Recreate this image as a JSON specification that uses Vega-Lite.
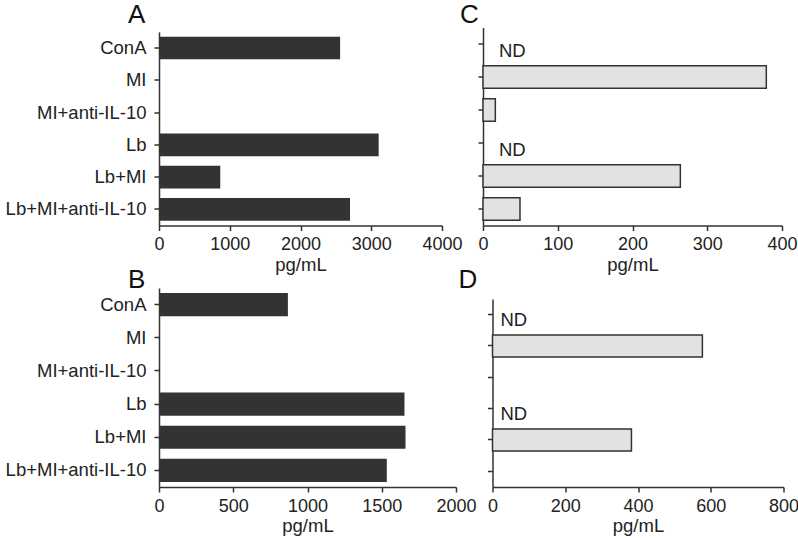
{
  "$schema": "https://vega.github.io/schema/vega-lite/v6.json",
  "background": "white",
  "padding": {"left": 5, "top": 1.5, "right": 0, "bottom": 0},
  "datasets": {
    "cyto": [
      {"panel": "A", "cat": "ConA", "value": 2560, "note": null},
      {"panel": "A", "cat": "Lb", "value": 3105, "note": null},
      {"panel": "A", "cat": "Lb+MI", "value": 866, "note": null},
      {"panel": "A", "cat": "Lb+MI+anti-IL-10", "value": 2700, "note": null},
      {"panel": "B", "cat": "ConA", "value": 868, "note": null},
      {"panel": "B", "cat": "Lb", "value": 1653, "note": null},
      {"panel": "B", "cat": "Lb+MI", "value": 1660, "note": null},
      {"panel": "B", "cat": "Lb+MI+anti-IL-10", "value": 1534, "note": null},
      {"panel": "C", "cat": "ConA", "value": null, "note": "ND"},
      {"panel": "C", "cat": "MI", "value": 379, "note": null},
      {"panel": "C", "cat": "MI+anti-IL-10", "value": 16.5, "note": null},
      {"panel": "C", "cat": "Lb", "value": null, "note": "ND"},
      {"panel": "C", "cat": "Lb+MI", "value": 264, "note": null},
      {"panel": "C", "cat": "Lb+MI+anti-IL-10", "value": 49.5, "note": null},
      {"panel": "D", "cat": "ConA", "value": null, "note": "ND"},
      {"panel": "D", "cat": "MI", "value": 577, "note": null},
      {"panel": "D", "cat": "Lb", "value": null, "note": "ND"},
      {"panel": "D", "cat": "Lb+MI", "value": 382, "note": null}
    ]
  },
  "config": {
    "font": "Liberation Sans",
    "view": {"stroke": null},
    "title": {"font": "Liberation Sans", "fontSize": 26, "fontWeight": "normal", "color": "#111111", "anchor": "start", "frame": "group"},
    "axis": {
      "domainColor": "#333333", "domainWidth": 1.5, "tickColor": "#333333", "tickWidth": 1.5, "tickSize": 5,
      "labelFont": "Liberation Sans", "labelColor": "#222222", "grid": false,
      "titleFont": "Liberation Sans", "titleFontSize": 18.5, "titleFontWeight": "normal", "titleColor": "#222222"
    },
    "axisX": {"labelFontSize": 18, "labelPadding": 5, "titlePadding": 1.5, "labelFlush": false, "labelOverlap": false, "format": "d"},
    "axisY": {"labelFontSize": 18.5, "labelPadding": 8}
  },
  "concat": [
    {
      "columns": 2, "align": "none", "spacing": -3,
      "concat": [
        {
          "width": 283, "height": 198,
          "title": {"text": "A", "dx": -31, "offset": 0},
          "data": {"name": "cyto"},
          "transform": [{"filter": "datum.panel === 'A'"}],
          "mark": {"type": "bar", "color": "#333333"},
          "encoding": {
            "y": {"field": "cat", "type": "nominal", "scale": {"domain": ["ConA", "MI", "MI+anti-IL-10", "Lb", "Lb+MI", "Lb+MI+anti-IL-10"], "range": [4.4, 198], "paddingInner": 0.3, "paddingOuter": 0.15}, "axis": {"title": null}},
            "x": {"field": "value", "type": "quantitative", "scale": {"domain": [0, 4000], "nice": false}, "axis": {"title": "pg/mL", "values": [0, 1000, 2000, 3000, 4000]}}
          }
        },
        {
          "width": 299, "height": 198,
          "title": {"text": "C", "dx": -23, "offset": 0},
          "data": {"name": "cyto"},
          "transform": [{"filter": "datum.panel === 'C'"}],
          "encoding": {
            "y": {"field": "cat", "type": "nominal", "scale": {"domain": ["ConA", "MI", "MI+anti-IL-10", "Lb", "Lb+MI", "Lb+MI+anti-IL-10"], "paddingInner": 0.32, "paddingOuter": 0.16}, "axis": {"title": null, "labels": false}}
          },
          "layer": [
            {
              "mark": {"type": "bar", "fill": "#e2e2e2", "stroke": "#333333", "strokeWidth": 1.5},
              "encoding": {
                "x": {"field": "value", "type": "quantitative", "scale": {"domain": [0, 400], "nice": false}, "axis": {"title": "pg/mL", "values": [0, 100, 200, 300, 400]}}
              }
            },
            {
              "transform": [{"filter": "datum.note === 'ND'"}],
              "mark": {"type": "text", "align": "left", "baseline": "middle", "dx": 16, "dy": 7, "fontSize": 18.5, "color": "#222222"},
              "encoding": {
                "x": {"datum": 0, "type": "quantitative"},
                "text": {"field": "note"}
              }
            }
          ]
        }
      ]
    },
    {
      "columns": 2, "align": "none", "spacing": -18.5,
      "concat": [
        {
          "width": 297, "height": 199,
          "title": {"text": "B", "dx": -31, "offset": -4.5},
          "data": {"name": "cyto"},
          "transform": [{"filter": "datum.panel === 'B'"}],
          "mark": {"type": "bar", "color": "#333333"},
          "encoding": {
            "y": {"field": "cat", "type": "nominal", "scale": {"domain": ["ConA", "MI", "MI+anti-IL-10", "Lb", "Lb+MI", "Lb+MI+anti-IL-10"], "paddingInner": 0.3, "paddingOuter": 0.15}, "axis": {"title": null}},
            "x": {"field": "value", "type": "quantitative", "scale": {"domain": [0, 2000], "nice": false}, "axis": {"title": "pg/mL", "values": [0, 500, 1000, 1500, 2000]}}
          }
        },
        {
          "width": 291, "height": 199,
          "title": {"text": "D", "dx": -34, "offset": -4.5},
          "data": {"name": "cyto"},
          "transform": [{"filter": "datum.panel === 'D'"}],
          "encoding": {
            "y": {"field": "cat", "type": "nominal", "scale": {"domain": ["ConA", "MI", "MI+anti-IL-10", "Lb", "Lb+MI", "Lb+MI+anti-IL-10"], "range": [10.9, 199], "paddingInner": 0.3, "paddingOuter": 0.15}, "axis": {"title": null, "labels": false}}
          },
          "layer": [
            {
              "mark": {"type": "bar", "fill": "#e2e2e2", "stroke": "#333333", "strokeWidth": 1.5},
              "encoding": {
                "x": {"field": "value", "type": "quantitative", "scale": {"domain": [0, 800], "nice": false}, "axis": {"title": "pg/mL", "values": [0, 200, 400, 600, 800]}}
              }
            },
            {
              "transform": [{"filter": "datum.note === 'ND'"}],
              "mark": {"type": "text", "align": "left", "baseline": "middle", "dx": 8, "dy": 5, "fontSize": 18.5, "color": "#222222"},
              "encoding": {
                "x": {"datum": 0, "type": "quantitative"},
                "text": {"field": "note"}
              }
            }
          ]
        }
      ]
    }
  ],
  "columns": 1, "align": "none", "spacing": -7.5
}
